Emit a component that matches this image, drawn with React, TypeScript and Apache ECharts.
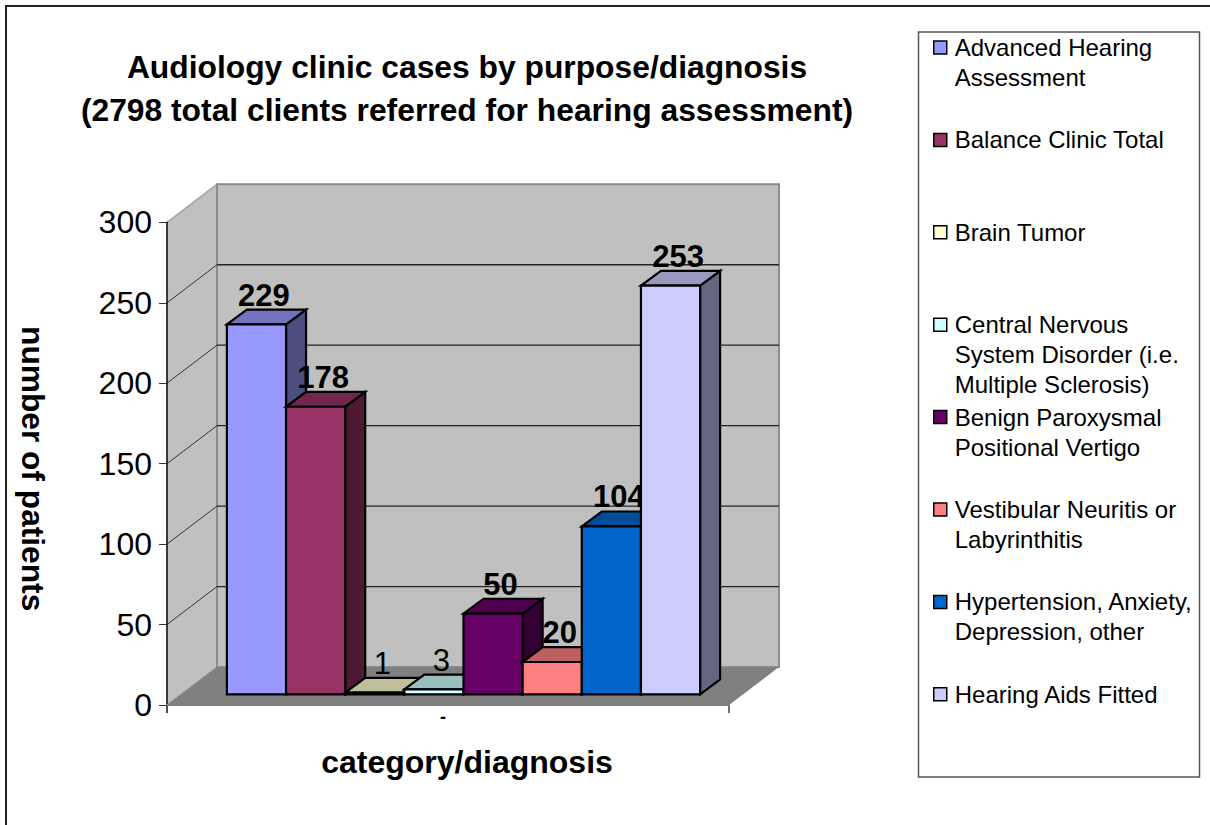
import React, { useEffect, useRef } from "react";
import * as echarts from "echarts";

const categories = [
  "Advanced Hearing Assessment",
  "Balance Clinic Total",
  "Brain Tumor",
  "Central Nervous System Disorder (i.e. Multiple Sclerosis)",
  "Benign Paroxysmal Positional Vertigo",
  "Vestibular Neuritis or Labyrinthitis",
  "Hypertension, Anxiety, Depression, other",
  "Hearing Aids Fitted",
];
const legendLabels = [
  "Advanced Hearing\nAssessment",
  "Balance Clinic Total",
  "Brain Tumor",
  "Central Nervous\nSystem Disorder (i.e.\nMultiple Sclerosis)",
  "Benign Paroxysmal\nPositional Vertigo",
  "Vestibular Neuritis or\nLabyrinthitis",
  "Hypertension, Anxiety,\nDepression, other",
  "Hearing Aids Fitted",
];
const values = [229, 178, 1, 3, 50, 20, 104, 253];
const frontColors = ["#9999FF", "#993366", "#FFFFCC", "#CCFFFF", "#660066", "#FF8080", "#0066CC", "#CCCCFF"];
const topColors = ["#7373BF", "#73264D", "#BFBF99", "#99BFBF", "#4D004D", "#BF6060", "#004D99", "#9999BF"];
const sideColors = ["#4D4D80", "#4D1933", "#808066", "#668080", "#330033", "#804040", "#003366", "#666680"];
const yTicks = [0, 50, 100, 150, 200, 250, 300];
const xLabels = ["-"];
const titleLines = [
  "Audiology clinic cases by purpose/diagnosis",
  "(2798 total clients referred for hearing assessment)",
];

const FONT = "'Liberation Sans', Arial, sans-serif";
const WALL_DX = 50;
const WALL_DY = 38;
const BAR_W = 59.15;
const BAR_DX = 20;
const BAR_DY = 14.8;
const FRONT_DX = 15.5;
const FRONT_DY = 10.7;
const BAR_SCALE = 1.004;
const LEGEND_START = 47.5;
const LEGEND_PITCH = 92.4;
const X_TICK_LEN = 8;

function renderWalls(params: any, api: any) {
  const v = api.value(1);
  const cs = params.coordSys;
  const y = api.coord([0, v])[1];
  const l = cs.x;
  const r = cs.x + cs.width;
  const children: any[] = [];
  const edge = { stroke: "#8c8c8c", lineWidth: 2 };
  if (v === 0) {
    const top = cs.y;
    children.push(
      {
        type: "polygon",
        shape: { points: [[l, y], [l + WALL_DX, y - WALL_DY], [l + WALL_DX, top - WALL_DY], [l, top]] },
        style: { fill: "#C0C0C0", stroke: "#a6a6a6", lineWidth: 1.5 },
      },
      {
        type: "rect",
        shape: { x: l + WALL_DX, y: top - WALL_DY, width: r - l, height: y - top },
        style: { fill: "#C0C0C0", ...edge },
      },
      {
        type: "polygon",
        shape: { points: [[l, y], [r, y], [r + WALL_DX, y - WALL_DY], [l + WALL_DX, y - WALL_DY]] },
        style: { fill: "#808080" },
      },
      {
        type: "line",
        shape: { x1: l, y1: y, x2: l, y2: y + X_TICK_LEN },
        style: { stroke: "#111", lineWidth: 1.5 },
      },
      {
        type: "line",
        shape: { x1: r, y1: y, x2: r, y2: y + X_TICK_LEN },
        style: { stroke: "#111", lineWidth: 1.2 },
      }
    );
  } else if (v < yTicks[yTicks.length - 1]) {
    children.push(
      {
        type: "line",
        shape: { x1: l, y1: y, x2: l + WALL_DX, y2: y - WALL_DY },
        style: { stroke: "#333", lineWidth: 1 },
      },
      {
        type: "line",
        shape: { x1: l + WALL_DX, y1: y - WALL_DY, x2: r + WALL_DX, y2: y - WALL_DY },
        style: { stroke: "#222", lineWidth: 1.3 },
      }
    );
  }
  return { type: "group", children };
}

function makeBarRenderer(i: number) {
  return (params: any, api: any) => {
    const v = api.value(1);
    const [cx, yv] = api.coord([0, v]);
    const y0 = api.coord([0, 0])[1];
    const x0 = cx + FRONT_DX + (i - categories.length / 2) * BAR_W;
    const x1 = x0 + BAR_W;
    const bot = y0 - FRONT_DY;
    const top = bot - (y0 - yv) * BAR_SCALE;
    const line = { stroke: "#000", lineWidth: 2.2, lineJoin: "miter" };
    return {
      type: "group",
      children: [
        {
          type: "polygon",
          shape: { points: [[x1, top], [x1 + BAR_DX, top - BAR_DY], [x1 + BAR_DX, bot - BAR_DY], [x1, bot]] },
          style: { fill: sideColors[i], ...line },
        },
        {
          type: "polygon",
          shape: { points: [[x0, top], [x0 + BAR_DX, top - BAR_DY], [x1 + BAR_DX, top - BAR_DY], [x1, top]] },
          style: { fill: topColors[i], ...line },
        },
        {
          type: "rect",
          shape: { x: x0, y: top, width: BAR_W, height: bot - top },
          style: { fill: frontColors[i], ...line },
        },
        {
          type: "text",
          style: {
            text: String(v),
            x: x0 + BAR_W / 2 + 7.5,
            y: top - BAR_DY + 1,
            align: "center",
            verticalAlign: "bottom",
            fontFamily: FONT,
            fontSize: 31,
            fontWeight: v >= 10 ? "bold" : "normal",
            fill: "#000",
          },
        },
      ],
    };
  };
}

export default function App() {
  const ref = useRef<HTMLDivElement>(null);
  useEffect(() => {
    document.body.style.margin = "0";
    const chart = echarts.init(ref.current!, null, { renderer: "svg" });
    chart.setOption({
      animation: false,
      backgroundColor: "#fff",
      title: {
        text: titleLines.join("\n"),
        left: 462,
        top: 40,
        textAlign: "center",
        textStyle: { fontFamily: FONT, fontSize: 31.8, fontWeight: "bold", lineHeight: 43, color: "#000" },
      },
      grid: { left: 167, top: 222.3, width: 562, height: 482.7 },
      xAxis: {
        type: "category",
        data: xLabels,
        z: 3,
        name: "category/diagnosis",
        nameLocation: "middle",
        nameGap: 41,
        nameTextStyle: { fontFamily: FONT, fontSize: 32, fontWeight: "bold", color: "#000", padding: [0, 0, 0, 38] },
        axisLine: { lineStyle: { color: "#808080", width: 2 } },
        axisTick: { show: false },
        axisLabel: { fontFamily: FONT, fontSize: 18, fontWeight: "bold", color: "#000", margin: 3, padding: [0, 10, 0, 0] },
        splitLine: { show: false },
      },
      yAxis: {
        type: "value",
        min: 0,
        max: 300,
        interval: 50,
        z: 3,
        name: "number of patients",
        nameLocation: "middle",
        nameRotate: -90,
        nameGap: 118,
        nameTextStyle: { fontFamily: FONT, fontSize: 31.7, fontWeight: "bold", color: "#000", padding: [0, 0, 0, 10] },
        axisLine: { show: true, lineStyle: { color: "#111", width: 1.5 } },
        axisTick: { show: true, length: 8, lineStyle: { color: "#333" } },
        axisLabel: { fontFamily: FONT, fontSize: 32, color: "#000", margin: 15 },
        splitLine: { show: false },
      },
      legend: categories.map((name, i) => {
        const n = legendLabels[i].split("\n").length;
        return {
          data: [name],
          left: 933,
          top: LEGEND_START + i * LEGEND_PITCH - (2 * n - 1) * 15,
          padding: 0,
          itemWidth: 13,
          itemHeight: 13,
          icon: "rect",
          selectedMode: false,
          itemStyle: { borderColor: "#000", borderWidth: 1.5 },
          formatter: () => "\n".repeat(n - 1) + legendLabels[i],
          textStyle: { fontFamily: FONT, fontSize: 24, lineHeight: 30, color: "#000", padding: [0, 0, 0, 3] },
        };
      }),
      graphic: [
        {
          type: "polyline",
          shape: { points: [[6, 830], [6, 6], [1215, 6]] },
          style: { stroke: "#222", lineWidth: 2, fill: "none" },
        },
        {
          type: "rect",
          shape: { x: 918.5, y: 32, width: 281, height: 745 },
          style: { fill: "none", stroke: "#555", lineWidth: 1.5 },
        },
      ],
      series: [
        {
          type: "custom",
          name: "walls",
          silent: true,
          z: 1,
          clip: false,
          renderItem: renderWalls,
          encode: { x: 0, y: 1 },
          data: yTicks.map((t) => [0, t]),
        },
        ...categories.map((name, i) => ({
          type: "custom",
          name,
          z: 2,
          clip: false,
          renderItem: makeBarRenderer(i),
          encode: { x: 0, y: 1 },
          itemStyle: { color: frontColors[i] },
          data: [[0, values[i]]],
        })),
      ],
    });
    return () => chart.dispose();
  }, []);
  return <div ref={ref} style={{ width: 1210, height: 825 }} />;
}
